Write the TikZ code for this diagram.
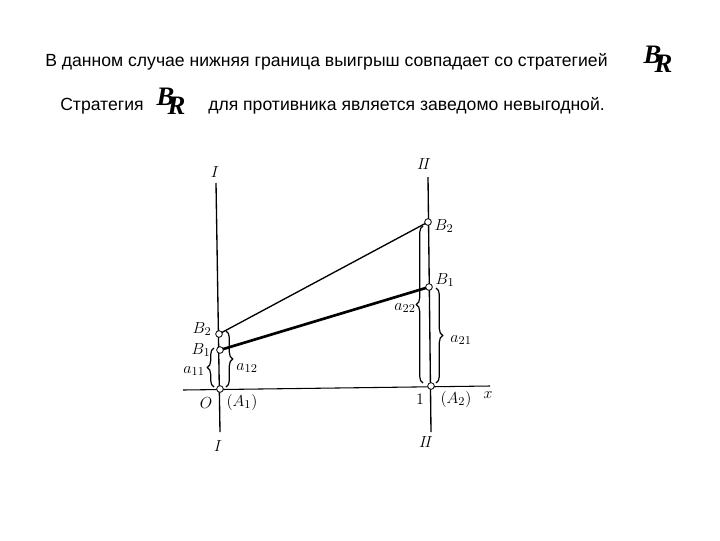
\documentclass[tikz,border=0pt]{standalone}
\usepackage{fontspec}
\setmainfont{Liberation Sans}
\newfontfamily\symserif{Liberation Serif}
\usetikzlibrary{decorations.pathreplacing}
\tikzset{
  pt/.style={circle,draw,fill=white,inner sep=0pt,minimum size=5pt,line width=0.6pt},
  axisline/.style={line width=1pt},
  lab/.style={inner sep=1pt,font=\fontsize{12.5}{13}\selectfont},
  brc/.style={decorate,decoration={brace,amplitude=5pt},line width=0.9pt},
  txt/.style={inner sep=0pt,anchor=west,font=\fontsize{13.2}{15}\selectfont},
  sym/.style={inner sep=0pt,font=\symserif\itshape\bfseries\fontsize{20}{20}\selectfont}
}
\begin{document}
\begin{tikzpicture}[x=0.75pt,y=-0.75pt]
\useasboundingbox (0,0) rectangle (720,540);
% text
\node[txt] (t1) at (45,62) {В данном случае нижняя граница выигрыш совпадает со стратегией};
\node[txt] (t2) at (60,106) {Стратегия};
\node[txt] (t3) at (208,106) {для противника является заведомо невыгодной.};
\node[sym] (s1) at (658,59) {B\kern-5pt\raisebox{-7pt}{R}};
\node[sym] (s2) at (171,101) {B\kern-5pt\raisebox{-7pt}{R}};
% axes
\coordinate (Itop) at (216,183);
\coordinate (Ibot) at (220,432);
\coordinate (IItop) at (428,177);
\coordinate (IIbot) at (431,432);
\coordinate (xl) at (183,390);
\coordinate (xr) at (490,386);
\draw[axisline] (Itop) -- (Ibot);
\draw[axisline] (IItop) -- (IIbot);
\draw[line width=0.8pt] (xl) -- (xr);
% points
\coordinate (O) at (220,389);
\coordinate (One) at (431,386);
\coordinate (B2l) at (219,334);
\coordinate (B1l) at (220,350);
\coordinate (B2r) at (428,222);
\coordinate (B1r) at (429,287);
% lines
\draw[line width=1pt] (B2l) -- (B2r);
\draw[line width=2pt] (B1l) -- (B1r);
% braces
\draw[brc] (214,387) -- (214,348);
\draw[brc] (226,331) -- (226,387);
\draw[brc] (423,383) -- (423,226);
\draw[brc] (436,288) -- (436,383);
% point markers
\node[pt] (nO) at (O) {};
\node[pt] (n1) at (One) {};
\node[pt] (nB2l) at (B2l) {};
\node[pt] (nB1l) at (B1l) {};
\node[pt] (nB2r) at (B2r) {};
\node[pt] (nB1r) at (B1r) {};
% labels
\node[lab] (lI1) at (215,172) {$I$};
\node[lab] (lI2) at (218,446) {$I$};
\node[lab] (lII1) at (424,164) {$I\!I$};
\node[lab] (lII2) at (426,442) {$I\!I$};
\node[lab] (lB2l) at (202,329) {$B_2$};
\node[lab] (lB1l) at (201,350) {$B_1$};
\node[lab] (la11) at (194,371) {$a_{11}$};
\node[lab] (la12) at (247,368) {$a_{12}$};
\node[lab] (lO) at (206,403) {$O$};
\node[lab] (lA1) at (242,402) {$(A_1)$};
\node[lab] (lB2r) at (444,226) {$B_2$};
\node[lab] (lB1r) at (445,280) {$B_1$};
\node[lab] (la22) at (405,308) {$a_{22}$};
\node[lab] (la21) at (461,340) {$a_{21}$};
\node[lab] (l1) at (420,399) {$1$};
\node[lab] (lA2) at (456,399) {$(A_2)$};
\node[lab] (lx) at (488,395) {$x$};
\end{tikzpicture}
\end{document}
